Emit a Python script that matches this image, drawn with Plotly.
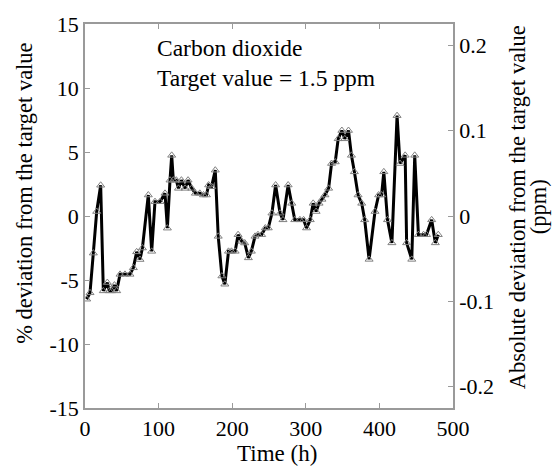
import plotly.graph_objects as go

time_h = [2.3, 6.8, 11.3, 15.9, 21.3, 24.9, 30.3, 33.0, 36.2, 40.0, 43.0, 47.6, 54.3, 61.1,
          65.7, 70.2, 74.7, 78.0, 86.0, 90.6, 95.1, 101.9, 108.7, 111.9, 115.5, 117.8, 120.0,
          124.0, 127.0, 131.0, 136.0, 140.0, 145.0, 150.0, 156.0, 161.0, 165.0, 168.0, 172.0,
          177.0, 181.0, 186.0, 190.0, 195.0, 199.0, 204.0, 208.0, 213.0, 217.0, 222.0, 226.0,
          231.0, 235.0, 240.0, 245.0, 249.0, 254.0, 259.0, 265.0, 269.0, 276.0, 281.0, 285.0,
          292.0, 297.0, 301.0, 306.0, 310.0, 314.0, 318.0, 322.0, 326.0, 331.0, 335.0, 340.0,
          344.0, 349.0, 353.0, 358.0, 362.0, 366.0, 371.0, 376.0, 380.0, 386.0, 394.0, 399.0,
          403.0, 406.0, 411.0, 417.0, 424.0, 428.0, 435.0, 437.0, 444.0, 448.0, 453.0, 460.0,
          464.0, 471.0, 476.0, 480.0]
pct_dev = [-6.5, -6.0, -2.9, 0.35, 2.4, -5.85, -5.2, -5.85, -5.85, -5.4, -5.85, -4.56, -4.56, -4.56,
           -4.05, -2.8, -3.4, -2.5, 1.64, -2.76, 1.12, 1.12, 1.77, -0.95, 2.8, 4.74, 2.8,
           2.8, 2.16, 2.8, 2.16, 2.8, 2.16, 1.77, 1.77, 1.64, 1.64, 2.42, 2.29,
           3.58, -1.59, -4.69, -5.33, -2.76, -2.76, -2.76, -1.46, -1.98, -2.11, -3.27, -2.76,
           -1.59, -1.46, -1.46, -0.94, -0.94, 0.22, 2.42, 0.22, -0.3, 2.42, 0.99, -0.3,
           -0.3, -0.3, -0.94, -0.3, 0.99, 0.35, 0.99, 1.3, 1.64, 2.16, 4.1, 4.22,
           6.03, 6.68, 6.03, 6.68, 4.74, 3.45, 1.64, 0.99, -0.3, -3.39, 0.35, 1.64,
           1.64, 3.45, -0.3, -2.1, 7.84, 4.1, 4.74, -2.1, -3.39, 4.74, -1.46, -1.46,
           -1.46, -0.3, -2.1, -1.46]

target_ppm = 1.5
abs_dev = [v / 100 * target_ppm for v in pct_dev]

left_ticks = [15, 10, 5, 0, -5, -10, -15]
left_text = ["15", "10", "5", "0", "-5", "-10", "-15"]
right_ticks = [0.2, 0.1, 0, -0.1, -0.2]
right_text = ["0.2", "0.1", "0", "-0.1", "-0.2"]
x_ticks = [0, 100, 200, 300, 400, 500]

FONT = "Liberation Serif"
AX = "#9a9a9a"

fig = go.Figure()
fig.add_trace(go.Scatter(
    x=time_h, y=pct_dev, mode="lines+markers",
    line=dict(color="black", width=3),
    marker=dict(symbol="triangle-up-open", size=7, color="#808080", line=dict(width=1, color="#808080")),
    showlegend=False, hoverinfo="x+y"))
fig.add_trace(go.Scatter(
    x=time_h, y=abs_dev, yaxis="y2", mode="lines",
    line=dict(width=0, color="rgba(0,0,0,0)"), showlegend=False, hoverinfo="skip"))

fig.update_layout(
    width=552, height=468,
    margin=dict(l=85, r=99, t=21, b=60),
    paper_bgcolor="white", plot_bgcolor="white",
    font=dict(family=FONT, size=22, color="black"),
    xaxis=dict(range=[0, 500], tickvals=x_ticks, ticks="inside", ticklen=5, tickcolor=AX,
               showline=True, linecolor=AX, linewidth=1.5, mirror="ticks", showgrid=False,
               zeroline=False, tickfont=dict(family=FONT, size=22)),
    yaxis=dict(range=[-15, 15], tickvals=left_ticks, ticktext=left_text, ticks="inside",
               ticklen=5, tickcolor=AX, showline=True, linecolor=AX, linewidth=1.5,
               showgrid=False, zeroline=False, tickfont=dict(family=FONT, size=22)),
    yaxis2=dict(range=[-15 / 100 * target_ppm, 15 / 100 * target_ppm], overlaying="y", side="right",
                tickvals=right_ticks, ticktext=right_text, ticks="inside", ticklen=5, tickcolor=AX,
                showline=True, linecolor=AX, linewidth=1.5, showgrid=False, zeroline=False,
                tickfont=dict(family=FONT, size=22)),
    annotations=[
        dict(x=95, y=13.1, xref="x", yref="y", text="Carbon dioxide", showarrow=False,
             xanchor="left", yanchor="middle", font=dict(family=FONT, size=23.5)),
        dict(x=95, y=10.8, xref="x", yref="y", text="Target value = 1.5 ppm", showarrow=False,
             xanchor="left", yanchor="middle", font=dict(family=FONT, size=23.5)),
        dict(x=0.522, y=-0.119, xref="paper", yref="paper", text="Time (h)", showarrow=False,
             xanchor="center", yanchor="middle", font=dict(family=FONT, size=23)),
        dict(x=-0.163, y=0.558, xref="paper", yref="paper", text="% deviation from the target value",
             showarrow=False, textangle=-90, xanchor="center", yanchor="middle",
             font=dict(family=FONT, size=22.5)),
        dict(x=1.174, y=0.523, xref="paper", yref="paper",
             text="Absolute deviation from the target value",
             showarrow=False, textangle=-90, xanchor="center", yanchor="middle",
             font=dict(family=FONT, size=22.5)),
        dict(x=1.231, y=0.523, xref="paper", yref="paper", text="(ppm)",
             showarrow=False, textangle=-90, xanchor="center", yanchor="middle",
             font=dict(family=FONT, size=22.5)),
    ],
)

fig.write_html("out.html")
